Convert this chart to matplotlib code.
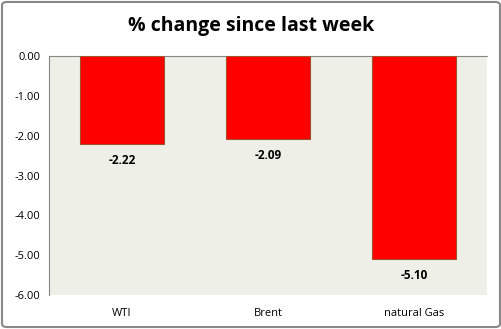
import numpy as np
import matplotlib.pyplot as plt
from matplotlib.patches import FancyBboxPatch

# data
categories = ['WTI', 'Brent', 'natural Gas']
values = [-2.22, -2.09, -5.10]
yticks = [0, -1, -2, -3, -4, -5, -6]

plt.rcParams['font.family'] = ['Open Sans', 'DejaVu Sans']

fig = plt.figure(figsize=(5.02, 3.29), dpi=100)
ax = fig.add_axes([49/502, 1-295/329, 438/502, 239/329])

x = np.arange(len(categories))
ax.bar(x, values, width=0.57, color='#ff0000', edgecolor='#a0522d', linewidth=0.8, zorder=3)
for xi, v in zip(x, values):
    ax.text(xi, v - 0.24, '%.2f' % v, ha='center', va='top', fontsize=8.5, fontweight='bold')

ax.set_xlim(-0.5, len(categories) - 0.5)
ax.set_ylim(-6, 0)
ax.set_yticks(yticks)
ax.set_yticklabels(['%.2f' % t for t in yticks], fontsize=8)
ax.set_xticks(x)
ax.set_xticklabels(categories, fontsize=8)
ax.tick_params(axis='both', length=0, pad=6)
ax.tick_params(axis='x', pad=9)
ax.set_facecolor('#eef0e8')
for s in ['right', 'bottom']:
    ax.spines[s].set_visible(False)
ax.spines['left'].set_color('#888888')
ax.spines['top'].set_color('#888888')
ax.spines['left'].set_linewidth(0.8)
ax.spines['top'].set_linewidth(0.8)

fig.text(0.5, 1 - 26/329, '% change since last week', ha='center', va='center',
         fontsize=14, fontweight='bold')

border = FancyBboxPatch((0.004, 0.006), 0.992, 0.988, boxstyle='round,pad=0,rounding_size=0.01',
                        transform=fig.transFigure, fill=False, edgecolor='#888888', linewidth=1.5)
fig.patches.append(border)

fig.savefig('out.png', dpi=100)
